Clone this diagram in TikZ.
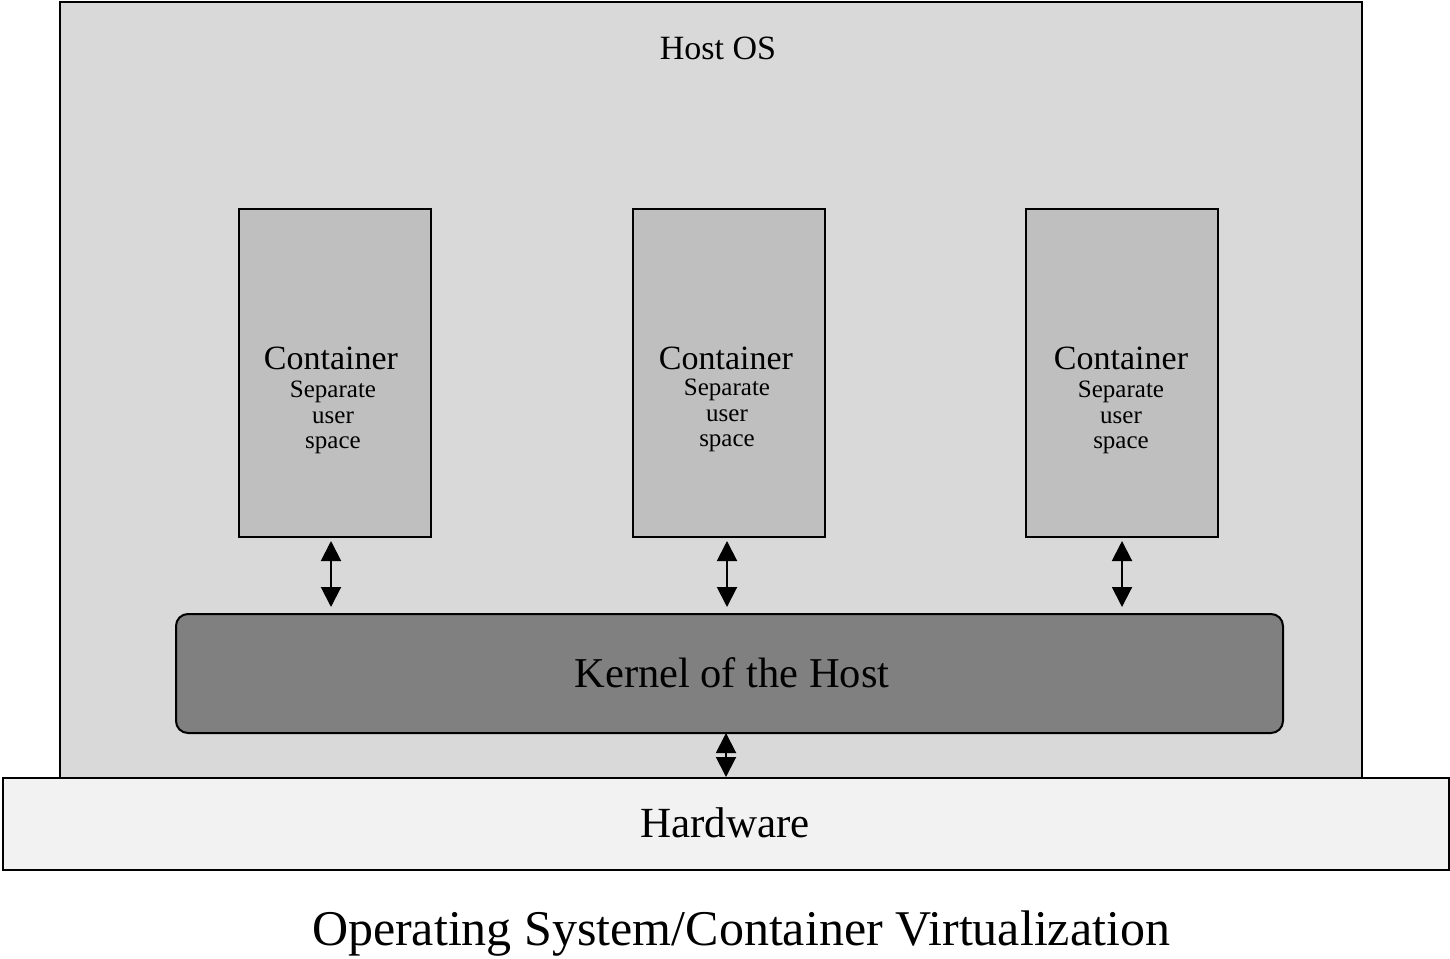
\documentclass[tikz,border=0pt]{standalone}
\usepackage{fontspec}
\setmainfont{Liberation Serif}
\usetikzlibrary{arrows.meta}
\definecolor{hostfill}{HTML}{D9D9D9}
\definecolor{hwfill}{HTML}{F2F2F2}
\definecolor{contfill}{HTML}{BFBFBF}
\definecolor{kernfill}{HTML}{808080}
\tikzset{
  box/.style={draw=black, line width=2pt, inner sep=0pt, anchor=north west},
  contbox/.style={box, fill=contfill, minimum width=192pt, minimum height=328pt},
  conttitle/.style={font=\fontsize{34}{38}\selectfont, inner sep=0pt},
  contsub/.style={font=\fontsize{25}{25.5}\selectfont, align=center, inner sep=0pt},
  biarrow/.style={line width=2pt, {Triangle[length=20pt,width=20pt]}-{Triangle[length=20pt,width=20pt]}},
}
\begin{document}
\begin{tikzpicture}[x=1pt,y=-1pt]
\useasboundingbox (0,0) rectangle (1450,958);
% Host OS
\node[box, fill=hostfill, minimum width=1302pt, minimum height=776pt] (host) at (59,1) {};
\node[font=\fontsize{34}{38}\selectfont, inner sep=0pt] (hostlbl) at (718,48) {Host OS};
% Hardware
\node[box, fill=hwfill, minimum width=1446pt, minimum height=92pt] (hw) at (2,777) {};
\node[font=\fontsize{43}{48}\selectfont, inner sep=0pt] (hwlbl) at (725,823) {Hardware};
% Kernel
\node[box, fill=kernfill, rounded corners=12pt, minimum width=1107pt, minimum height=119pt] (kern) at (175,613) {};
\node[font=\fontsize{42.5}{48}\selectfont, inner sep=0pt] (kernlbl) at (732,673) {Kernel of the Host};
% Containers
\node[contbox] (c1) at (238,208) {};
\node[contbox] (c2) at (632,208) {};
\node[contbox] (c3) at (1025,208) {};
\node[conttitle] (t1) at (331,358) {Container};
\node[conttitle] (t2) at (726,358) {Container};
\node[conttitle] (t3) at (1121,358) {Container};
\node[contsub, anchor=north] (s1) at (333,381) {Separate\\user\\space};
\node[contsub, anchor=north] (s2) at (727,379) {Separate\\user\\space};
\node[contsub, anchor=north] (s3) at (1121,381) {Separate\\user\\space};
% Arrows
\draw[biarrow, shorten <=3pt, shorten >=6pt] ([xshift=-4pt]c1.south) -- ([xshift=-4pt]c1.south |- kern.north);
\draw[biarrow, shorten <=3pt, shorten >=6pt] ([xshift=-2pt]c2.south) -- ([xshift=-2pt]c2.south |- kern.north);
\draw[biarrow, shorten <=3pt, shorten >=6pt] ([xshift=0pt]c3.south) -- ([xshift=0pt]c3.south |- kern.north);
\draw[biarrow] (726,733) -- (hw.north -| 726,733);
% Title
\node[font=\fontsize{50}{56}\selectfont, inner sep=0pt] (title) at (741,934) {Operating System/Container Virtualization};
\end{tikzpicture}
\end{document}
